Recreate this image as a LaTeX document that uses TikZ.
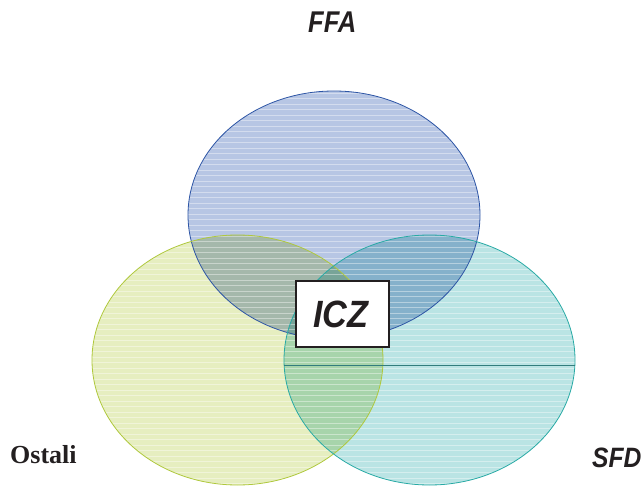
\documentclass[tikz,border=0pt]{standalone}
\usepackage{fontspec}
\setmainfont{Liberation Sans}
\newfontfamily\serifbold{Liberation Serif}
\definecolor{bfill}{RGB}{183,198,228}
\definecolor{bline}{RGB}{45,85,165}
\definecolor{gfill}{RGB}{230,238,192}
\definecolor{gline}{RGB}{175,200,60}
\definecolor{tfill}{RGB}{186,228,228}
\definecolor{tline}{RGB}{40,170,165}
\definecolor{midline}{RGB}{50,125,125}
\definecolor{txt}{RGB}{35,31,32}
\tikzset{
  lbl/.style={font=\bfseries\itshape, text=txt, inner sep=0pt, anchor=base west},
  stripe/.style={white, opacity=0.4, line width=0.8pt}
}
\begin{document}
\begin{tikzpicture}[x=1pt,y=-1pt]
\useasboundingbox (0,0) rectangle (644,486);
\coordinate (cb) at (334,215);
\coordinate (cg) at (237.5,360);
\coordinate (ct) at (429.5,360);
\begin{scope}[blend group=multiply]
  \fill[bfill] (cb) ellipse [x radius=146, y radius=124];
  \fill[gfill] (cg) ellipse [x radius=145.5, y radius=125];
  \fill[tfill] (ct) ellipse [x radius=145.5, y radius=125];
\end{scope}
\begin{scope}
  \clip (cb) ellipse [x radius=146, y radius=124]
        (cg) ellipse [x radius=145.5, y radius=125]
        (ct) ellipse [x radius=145.5, y radius=125];
  \foreach \yy in {93,98.5,...,486} {
    \draw[stripe] (80,\yy) -- (590,\yy);
  }
\end{scope}
\draw[bline, line width=0.8pt] (cb) ellipse [x radius=146, y radius=124];
\draw[gline, line width=0.8pt] (cg) ellipse [x radius=145.5, y radius=125];
\draw[tline, line width=0.8pt] (ct) ellipse [x radius=145.5, y radius=125];
\coordinate (hl) at (283.8,365);
\coordinate (hr) at (575.2,365);
\draw[midline, line width=0.8pt] (hl) -- (hr);
\node[draw=txt, fill=white, line width=1.5pt, minimum width=93pt, minimum height=66pt, inner sep=0pt] (box) at (342.5,314) {};
\node[lbl, font=\fontsize{38}{40}\selectfont\bfseries\itshape, xscale=0.9] (icz) at (313,327) {ICZ};
\node[lbl, font=\fontsize{30}{32}\selectfont\bfseries\itshape, xscale=0.85] (ffa) at (308,33) {FFA};
\node[lbl, font=\fontsize{28}{30}\selectfont\bfseries\itshape, xscale=0.88] (sfd) at (592,467) {SFD};
\node[lbl, font=\fontsize{26}{28}\selectfont\serifbold\bfseries, text=txt] (ost) at (10,463) {Ostali};
\end{tikzpicture}
\end{document}
